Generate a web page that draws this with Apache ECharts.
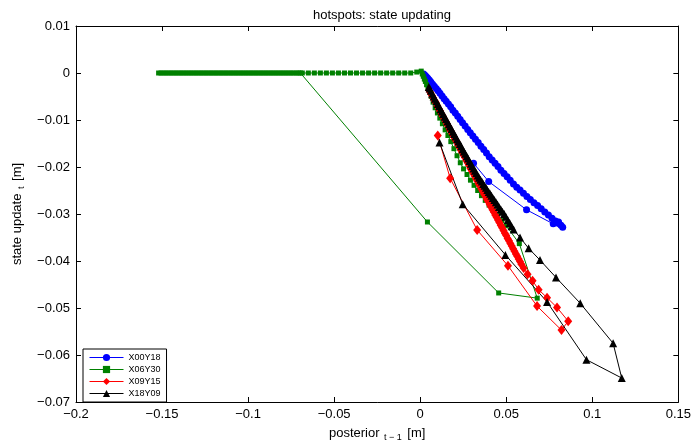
<!DOCTYPE html>
<html>
<head>
<meta charset="utf-8">
<script src="https://cdn.jsdelivr.net/npm/echarts@6/dist/echarts.min.js"></script>
<style>html,body{margin:0;padding:0;background:#fff;}#c{width:694px;height:447px;}</style>
</head>
<body>
<div id="c"></div>
<script>
// ---------- data ----------
const seriesNames = ['X00Y18', 'X06Y30', 'X09Y15', 'X18Y09'];

const xTickLabels = ['\u22120.2', '\u22120.15', '\u22120.1', '\u22120.05', '0', '0.05', '0.1', '0.15'];
const yTickLabels = ['\u22120.07', '\u22120.06', '\u22120.05', '\u22120.04', '\u22120.03', '\u22120.02', '\u22120.01', '0', '0.01'];

// X00Y18 (blue)
const blueX = [0.031, 0.0398, 0.0618, 0.0773, 0.0804,
  0.0828, 0.0818, 0.0805, 0.0786, 0.0766, 0.0745, 0.0724, 0.0703, 0.0682, 0.0661, 0.064, 0.062, 0.06, 0.058,
  0.0561, 0.0542, 0.0523, 0.0505, 0.0487, 0.0469, 0.0452, 0.0435, 0.0418, 0.0401, 0.0385, 0.0369, 0.0353,
  0.0337, 0.0321, 0.0306, 0.0291, 0.0276, 0.0261, 0.0246, 0.0232, 0.0218, 0.0204, 0.019, 0.0177, 0.0164,
  0.0151, 0.0139, 0.0127, 0.0115, 0.0104, 0.0093, 0.0082, 0.0072, 0.0062, 0.0053, 0.0044, 0.0036, 0.0028, 0.002];
const blueY = [-0.0192, -0.0231, -0.0291, -0.0321, -0.0317,
  -0.0328, -0.0324, -0.032, -0.0315, -0.0309, -0.0302, -0.0296, -0.0289, -0.0282, -0.0276, -0.0269, -0.0263, -0.0256, -0.0249,
  -0.0243, -0.0236, -0.0228, -0.0221, -0.0214, -0.0207, -0.0199, -0.0192, -0.0185, -0.0178, -0.017, -0.0163, -0.0156,
  -0.0148, -0.0141, -0.0134, -0.0127, -0.012, -0.0113, -0.0106, -0.0099, -0.0092, -0.0085, -0.0079, -0.0072, -0.0066,
  -0.006, -0.0055, -0.0049, -0.0043, -0.0038, -0.0033, -0.0028, -0.0024, -0.0019, -0.0015, -0.0011, -0.0008, -0.0005, -0.0002];

// X06Y30 (green)
const greenX = [-0.152, -0.1506, -0.1491, -0.1477, -0.1462, -0.1448, -0.1433, -0.1419, -0.1404, -0.139, -0.1375,
  -0.1361, -0.1346, -0.1332, -0.1317, -0.1303, -0.1288, -0.1274, -0.1259, -0.1245, -0.123, -0.1216, -0.1201,
  -0.1187, -0.1172, -0.1158, -0.1143, -0.1129, -0.1114, -0.11, -0.1085, -0.1071, -0.1056, -0.1042, -0.1027,
  -0.1013, -0.0998, -0.0984, -0.0969, -0.0955, -0.094, -0.0926, -0.0911, -0.0897, -0.0882, -0.0868, -0.0853,
  -0.0839, -0.0824, -0.081, -0.0795, -0.0781, -0.0766, -0.0752, -0.0737, -0.0722, -0.0708, -0.0696,
  0.0042, 0.0456, 0.068, 0.0576,
  0.05, 0.0475, 0.045, 0.0425, 0.04, 0.0378, 0.0356, 0.0334, 0.0313, 0.0292, 0.0272, 0.0252, 0.0233, 0.0214,
  0.0196, 0.0178, 0.0161, 0.0145, 0.0129, 0.0114, 0.01, 0.0087, 0.0075, 0.0064, 0.0054, 0.0045, 0.0037, 0.003,
  0.0024, 0.0018, 0.0012, 0.0006,
  -0.002, -0.0055, -0.009, -0.0125, -0.016, -0.0195, -0.023, -0.0265, -0.03, -0.0335, -0.037, -0.0405,
  -0.044, -0.0475, -0.051, -0.0545, -0.058, -0.0615, -0.065, -0.0685];
const greenY = [0, 0, 0, 0, 0, 0, 0, 0, 0, 0, 0,
  0, 0, 0, 0, 0, 0, 0, 0, 0, 0, 0, 0,
  0, 0, 0, 0, 0, 0, 0, 0, 0, 0, 0, 0,
  0, 0, 0, 0, 0, 0, 0, 0, 0, 0, 0, 0,
  0, 0, 0, 0, 0, 0, 0, 0, 0, 0, 0,
  -0.0317, -0.0468, -0.0479, -0.0363,
  -0.0325, -0.0314, -0.0303, -0.0292, -0.0281, -0.0271, -0.0261, -0.025, -0.0239, -0.0228, -0.0216, -0.0204, -0.0191, -0.0176,
  -0.0161, -0.0146, -0.0133, -0.0121, -0.0108, -0.0096, -0.0085, -0.0074, -0.0062, -0.005, -0.004, -0.0032, -0.0025, -0.0018,
  -0.0013, -0.0007, -0.0002, 0.0004,
  0.0002, 0, 0, 0, 0, 0, 0, 0, 0, 0, 0, 0,
  0, 0, 0, 0, 0, 0, 0, 0];

// X09Y15 (red)
const redX = [0.0102, 0.0174, 0.0331, 0.051, 0.0679, 0.0821, 0.086, 0.0795, 0.0737, 0.0688, 0.0653, 0.0624, 0.0601,
  0.0588, 0.058, 0.0572, 0.0564, 0.0556, 0.0548, 0.054, 0.0532, 0.0524, 0.0516, 0.0508, 0.05, 0.0492, 0.0484,
  0.0476, 0.0468, 0.046, 0.0452, 0.0444, 0.0436, 0.0428, 0.042, 0.0412, 0.0404, 0.0396, 0.0388, 0.038, 0.0372,
  0.0364, 0.0356, 0.0348, 0.034, 0.0332, 0.0324, 0.0316, 0.0308, 0.03, 0.0292, 0.0284, 0.0276, 0.0268, 0.026,
  0.0252, 0.0244, 0.0236, 0.0228, 0.022, 0.0212, 0.0204, 0.0196, 0.0188, 0.018, 0.0172, 0.0164, 0.0156, 0.0148,
  0.014, 0.0132, 0.0124, 0.0116, 0.0108, 0.01, 0.0092, 0.0084, 0.0076, 0.0068, 0.006, 0.0052];
const redY = [-0.0133, -0.0224, -0.0334, -0.041, -0.0496, -0.0547, -0.0528, -0.0499, -0.0478, -0.0461, -0.0442, -0.0428, -0.0415,
  -0.0407, -0.0401, -0.0396, -0.039, -0.0385, -0.0379, -0.0374, -0.0368, -0.0363, -0.0357, -0.0352, -0.0346, -0.0341, -0.0335,
  -0.0329, -0.0324, -0.0318, -0.0313, -0.0307, -0.0302, -0.0296, -0.0291, -0.0285, -0.028, -0.0274, -0.0269, -0.0263, -0.0258,
  -0.0252, -0.0247, -0.0241, -0.0236, -0.023, -0.0225, -0.0219, -0.0214, -0.0208, -0.0203, -0.0197, -0.0191, -0.0186, -0.018,
  -0.0175, -0.0169, -0.0164, -0.0158, -0.0153, -0.0147, -0.0142, -0.0136, -0.0131, -0.0125, -0.012, -0.0114, -0.0109, -0.0103,
  -0.0098, -0.0092, -0.0087, -0.0081, -0.0076, -0.007, -0.0064, -0.0059, -0.0053, -0.0048, -0.0042, -0.0037];

// X18Y09 (black)
const blackX = [0.0112, 0.0247, 0.0495, 0.0737, 0.0966, 0.1171, 0.1121, 0.093, 0.0789, 0.0696, 0.063, 0.058,
  0.0543, 0.0531, 0.052, 0.0509, 0.0498, 0.0488, 0.0478, 0.0468, 0.0458, 0.0449, 0.044, 0.0431, 0.0422,
  0.0414, 0.0406, 0.0398, 0.039, 0.0382, 0.0374, 0.0366, 0.0358, 0.035, 0.0342, 0.0334, 0.0326, 0.0318,
  0.031, 0.0302, 0.0294, 0.0286, 0.0278, 0.027, 0.0262, 0.0254, 0.0246, 0.0238, 0.023, 0.0222, 0.0214,
  0.0206, 0.0198, 0.019, 0.0182, 0.0174, 0.0166, 0.0158, 0.015, 0.0142, 0.0134, 0.0126, 0.0118, 0.011,
  0.0102, 0.0094, 0.0086, 0.0078, 0.007, 0.0062, 0.0055, 0.005];
const blackY = [-0.0148, -0.0279, -0.0387, -0.0487, -0.061, -0.0649, -0.0575, -0.049, -0.0435, -0.0398, -0.0373, -0.035,
  -0.0333, -0.0326, -0.0319, -0.0313, -0.0306, -0.03, -0.0295, -0.029, -0.0285, -0.028, -0.0275, -0.027, -0.0266,
  -0.0261, -0.0257, -0.0253, -0.0249, -0.0244, -0.024, -0.0236, -0.0231, -0.0227, -0.0223, -0.0218, -0.0213, -0.0208,
  -0.0203, -0.0198, -0.0193, -0.0187, -0.0182, -0.0177, -0.0172, -0.0167, -0.0162, -0.0156, -0.0151, -0.0146, -0.0141,
  -0.0135, -0.013, -0.0125, -0.0119, -0.0114, -0.0109, -0.0103, -0.0098, -0.0093, -0.0087, -0.0082, -0.0077, -0.0071,
  -0.0066, -0.006, -0.0055, -0.005, -0.0044, -0.0038, -0.0033, -0.003];

// ---------- chart ----------
const FONT = '"Liberation Sans", Arial, Helvetica, sans-serif';
const xMin = -0.2, xMax = 0.15, xStep = 0.05;
const yMin = -0.07, yMax = 0.01, yStep = 0.01;

function pairs(xs, ys) { return xs.map((x, i) => [x, ys[i]]); }
function xLab(v) { return xTickLabels[Math.round((v - xMin) / xStep)] || ''; }
function yLab(v) { return yTickLabels[Math.round((v - yMin) / yStep)] || ''; }

const baseAxis = {
  axisLine: { show: true, onZero: false, lineStyle: { color: '#000', width: 1 } },
  axisTick: { show: true, inside: true, length: 5, lineStyle: { color: '#000', width: 1 } },
  splitLine: { show: false },
};

const chart = echarts.init(document.getElementById('c'), null, { renderer: 'canvas' });
chart.setOption({
  animation: false,
  backgroundColor: '#fff',
  textStyle: { fontFamily: FONT },
  title: {
    text: 'hotspots: state updating',
    left: 377, top: 4, textAlign: 'center',
    textStyle: { fontFamily: FONT, fontSize: 13, fontWeight: 'normal', color: '#000' }
  },
  grid: { left: 76, right: 15, top: 26, bottom: 41, containLabel: false },
  xAxis: [
    Object.assign({}, baseAxis, {
      type: 'value', min: xMin, max: xMax, interval: xStep, position: 'bottom',
      axisLabel: { formatter: xLab, color: '#000', fontSize: 13, fontFamily: FONT, margin: 6 },
      name: '{a|posterior}{s| t \u2212 1}{a| [m]}', nameLocation: 'middle', nameGap: 22,
      nameTextStyle: {
        color: '#000', fontFamily: FONT,
        rich: { a: { fontSize: 13, fontFamily: FONT, color: '#000' },
                s: { fontSize: 9, fontFamily: FONT, color: '#000', padding: [9, 2, 0, 2] } }
      }
    }),
    Object.assign({}, baseAxis, {
      type: 'value', min: xMin, max: xMax, interval: xStep, position: 'top',
      axisLabel: { show: false }
    })
  ],
  yAxis: [
    Object.assign({}, baseAxis, {
      type: 'value', min: yMin, max: yMax, interval: yStep, position: 'left',
      axisLabel: { formatter: yLab, color: '#000', fontSize: 13, fontFamily: FONT, margin: 6 },
      name: '{a|state update}{s| t}{a| [m]}', nameLocation: 'middle', nameGap: 47, nameRotate: 90,
      nameTextStyle: {
        color: '#000', fontFamily: FONT,
        rich: { a: { fontSize: 13, fontFamily: FONT, color: '#000' },
                s: { fontSize: 9, fontFamily: FONT, color: '#000', padding: [9, 2, 0, 2] } }
      }
    }),
    Object.assign({}, baseAxis, {
      type: 'value', min: yMin, max: yMax, interval: yStep, position: 'right',
      axisLabel: { show: false }
    })
  ],
  legend: {
    orient: 'vertical', left: 83, bottom: 45,
    data: seriesNames,
    backgroundColor: '#fff', borderColor: '#000', borderWidth: 1, borderRadius: 0,
    padding: [4, 6, 4, 6], itemGap: 3, itemWidth: 34, itemHeight: 9,
    lineStyle: { width: 1 },
    textStyle: { fontSize: 9, fontFamily: FONT, color: '#000', padding: [0, 0, 0, 0] }
  },
  series: [
    { name: seriesNames[0], type: 'line', data: pairs(blueX, blueY), symbol: 'circle', symbolSize: 7,
      showAllSymbol: true, color: '#0000ff', lineStyle: { width: 1, color: '#0000ff' }, itemStyle: { color: '#0000ff' } },
    { name: seriesNames[1], type: 'line', data: pairs(greenX, greenY), symbol: 'rect', symbolSize: 5,
      showAllSymbol: true, color: '#008000', lineStyle: { width: 1, color: '#008000' }, itemStyle: { color: '#008000' } },
    { name: seriesNames[2], type: 'line', data: pairs(redX, redY), symbol: 'diamond', symbolSize: [8, 10],
      showAllSymbol: true, color: '#ff0000', lineStyle: { width: 1, color: '#ff0000' }, itemStyle: { color: '#ff0000' } },
    { name: seriesNames[3], type: 'line', data: pairs(blackX, blackY), symbol: 'triangle', symbolSize: 8,
      showAllSymbol: true, color: '#000000', lineStyle: { width: 1, color: '#000000' }, itemStyle: { color: '#000000' } }
  ]
});
</script>
</body>
</html>
